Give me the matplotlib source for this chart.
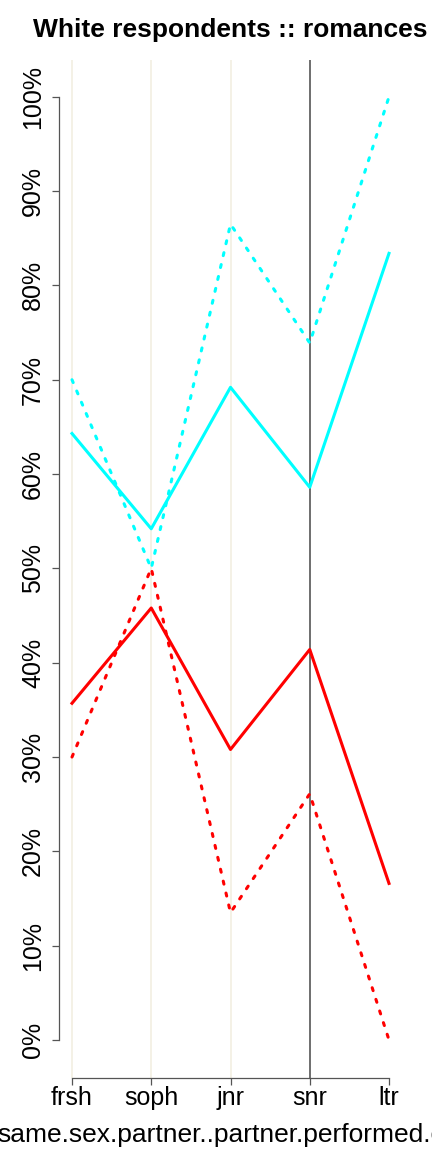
import matplotlib
matplotlib.use("Agg")
import matplotlib.pyplot as plt
from matplotlib.ticker import FuncFormatter

plt.rcParams['font.family'] = ['Liberation Sans', 'DejaVu Sans']

categories = ["frsh", "soph", "jnr", "snr", "ltr"]
cyan_solid = [0.643, 0.542, 0.692, 0.586, 0.834]
cyan_dotted = [0.70, 0.50, 0.865, 0.739, 1.00]
red_solid = [0.357, 0.458, 0.308, 0.414, 0.166]
red_dotted = [0.30, 0.50, 0.135, 0.261, 0.00]
yticks = [0.0, 0.1, 0.2, 0.3, 0.4, 0.5, 0.6, 0.7, 0.8, 0.9, 1.0]
title = "White respondents :: romances"
xlabel = "same.sex.partner..partner.performed.oral"

W, H = 432, 1152
fig = plt.figure(figsize=(W / 100, H / 100), dpi=100)
left, right, top, bottom = 59, 402, 60, 1078
ax = fig.add_axes([left / W, 1 - bottom / H, (right - left) / W, (bottom - top) / H])

x = list(range(1, len(categories) + 1))

vcolors = ['#f2efe2', '#f2efe2', '#f2efe2', '#555555']
for xi, c in zip(x[:4], vcolors):
    ax.axvline(xi, color=c, lw=1.2, zorder=1)

dots = (1.0, 3.0)
ax.plot(x, cyan_solid, color='#00ffff', lw=2.2, zorder=3)
ax.plot(x, red_solid, color='#ff0000', lw=2.2, zorder=3)
l1, = ax.plot(x, cyan_dotted, color='#00ffff', lw=2.2, zorder=3)
l2, = ax.plot(x, red_dotted, color='#ff0000', lw=2.2, zorder=3)
for l in (l1, l2):
    l.set_dashes(dots)
    l.set_dash_capstyle('round')

ax.set_xlim(0.836, 5.164)
ax.set_ylim(-0.0403, 1.039)

ax.set_xticks(x)
ax.set_xticklabels(categories, fontsize=18)
ax.set_yticks(yticks)
ax.yaxis.set_major_formatter(FuncFormatter(lambda v, p: f"{int(round(v * 100))}%"))
for lab in ax.get_yticklabels():
    lab.set_rotation(90)
    lab.set_va('center')
ax.tick_params(axis='y', labelsize=18, length=5, width=0.9, color='#555555', pad=5)
ax.tick_params(axis='x', labelsize=18, length=5, width=0.9, color='#555555', pad=1)

for s in ('top', 'right'):
    ax.spines[s].set_visible(False)
ax.spines['left'].set_bounds(0, 1)
ax.spines['bottom'].set_bounds(1, 5)
for s in ('left', 'bottom'):
    ax.spines[s].set_color('#555555')
    ax.spines[s].set_linewidth(0.9)

fig.text(230 / W, 1 - 30 / H, title, ha='center', va='center', fontsize=19, fontweight='bold')
fig.text(236 / W, 1 - 1135 / H, xlabel, ha='center', va='center', fontsize=19)

fig.savefig("out.png", dpi=100)
